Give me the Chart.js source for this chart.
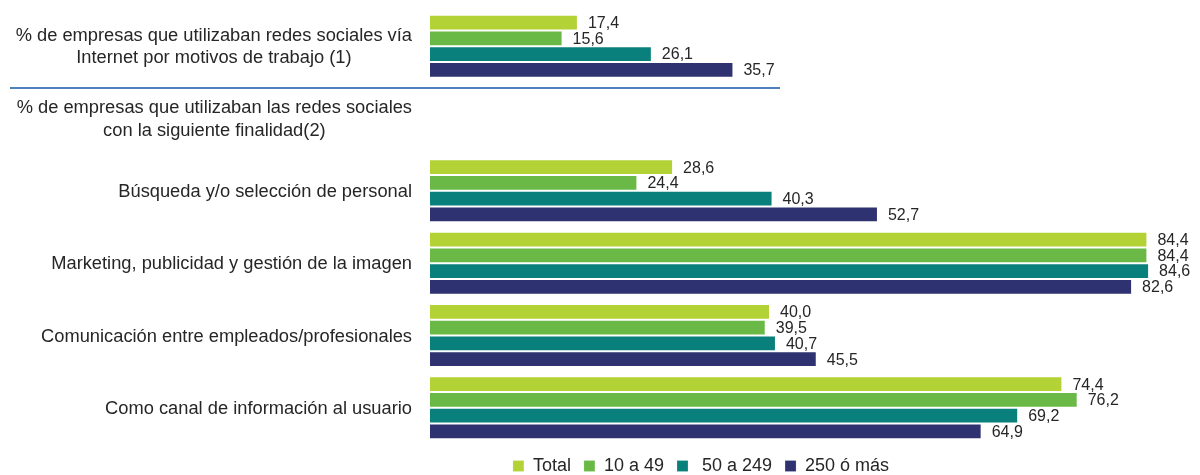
<!DOCTYPE html>
<html lang="es">
<head>
<meta charset="utf-8">
<title>Uso de redes sociales por tamaño de empresa</title>
<script src="https://cdn.jsdelivr.net/npm/chart.js@4.4.1/dist/chart.umd.min.js"></script>
<style>
  html, body { margin: 0; padding: 0; background: #ffffff; }
  #wrap { width: 1200px; height: 475px; position: relative; }
</style>
</head>
<body>
<div id="wrap"><canvas id="grafico"></canvas></div>
<script>
// Categorías (cada elemento es una lista de líneas del rótulo)
const categorias = [
  ['% de empresas que utilizaban redes sociales vía', 'Internet por motivos de trabajo (1)'],
  ['% de empresas que utilizaban las redes sociales', 'con la siguiente finalidad(2)'],
  ['Búsqueda y/o selección de personal'],
  ['Marketing, publicidad y gestión de la imagen'],
  ['Comunicación entre empleados/profesionales'],
  ['Como canal de información al usuario']
];

// Series por tamaño de empresa (%). La fila de encabezado no lleva barras.
const total      = [17.4, null, 28.6, 84.4, 40.0, 74.4];
const de10a49    = [15.6, null, 24.4, 84.4, 39.5, 76.2];
const de50a249   = [26.1, null, 40.3, 84.6, 40.7, 69.2];
const de250oMas  = [35.7, null, 52.7, 82.6, 45.5, 64.9];

const nombresSeries = ['Total', '10 a 49', ' 50 a 249', '250 ó más'];
const coloresSeries = ['#b3d236', '#6ab946', '#0a807c', '#2e3270'];

const FUENTE = '"Liberation Sans", Arial, Helvetica, sans-serif';
const COLOR_TEXTO = '#262626';

const formato = v => v.toFixed(1).replace('.', ',');

// Rótulos del eje de categorías: cada bloque se alinea a la derecha
// y sus líneas se centran entre sí.
const rotulosCategorias = {
  id: 'rotulosCategorias',
  afterDraw(chart) {
    const ctx = chart.ctx;
    const y = chart.scales.y;
    const bordeDerecho = chart.chartArea.left - 18;
    const interlinea = 22.5;
    ctx.save();
    ctx.font = '18.3px ' + FUENTE;
    ctx.fillStyle = COLOR_TEXTO;
    ctx.textAlign = 'center';
    ctx.textBaseline = 'middle';
    categorias.forEach((lineas, i) => {
      const yc = y.getPixelForValue(i) + 1;
      const ancho = Math.max(...lineas.map(l => ctx.measureText(l).width));
      const xc = bordeDerecho - ancho / 2;
      const y0 = yc - (lineas.length - 1) * interlinea / 2;
      lineas.forEach((l, k) => ctx.fillText(l, xc, y0 + k * interlinea));
    });
    ctx.restore();
  }
};

// Valores al final de cada barra
const etiquetasValor = {
  id: 'etiquetasValor',
  afterDatasetsDraw(chart) {
    const ctx = chart.ctx;
    ctx.save();
    ctx.font = '16px ' + FUENTE;
    ctx.fillStyle = COLOR_TEXTO;
    ctx.textAlign = 'left';
    ctx.textBaseline = 'middle';
    chart.data.datasets.forEach((ds, di) => {
      const meta = chart.getDatasetMeta(di);
      meta.data.forEach((barra, i) => {
        const v = ds.data[i];
        if (v === null || v === undefined) return;
        ctx.fillText(formato(v), barra.x + 10, barra.y + 1);
      });
    });
    ctx.restore();
  }
};

// Línea que separa el primer indicador del bloque de finalidades
const separador = {
  id: 'separador',
  afterDraw(chart) {
    const ctx = chart.ctx;
    const y = chart.scales.y;
    const y0 = y.getPixelForValue(0);
    const y1 = y.getPixelForValue(1);
    const yl = Math.round(y0 + (y1 - y0) * 0.575);
    ctx.save();
    ctx.strokeStyle = '#4f7fbd';
    ctx.lineWidth = 2;
    ctx.beginPath();
    ctx.moveTo(10, yl);
    ctx.lineTo(780, yl);
    ctx.stroke();
    ctx.restore();
  }
};

// Desplaza la leyenda hacia la derecha
const leyendaDesplazada = {
  id: 'leyendaDesplazada',
  afterLayout(chart) {
    if (chart.legend) chart.legend.left += 207;
  }
};

const series = [total, de10a49, de50a249, de250oMas];

new Chart(document.getElementById('grafico'), {
  type: 'bar',
  data: {
    labels: categorias.map(l => l.join(' ')),
    datasets: series.map((datos, i) => ({
      label: nombresSeries[i],
      data: datos,
      backgroundColor: coloresSeries[i],
      borderColor: 'rgba(255,255,255,0.18)',
      borderWidth: 1,
      categoryPercentage: 0.872,
      barPercentage: 1.0
    }))
  },
  options: {
    indexAxis: 'y',
    responsive: true,
    maintainAspectRatio: false,
    animation: false,
    layout: { padding: { top: 10, right: 5, bottom: -10, left: 0 } },
    scales: {
      x: {
        display: false,
        min: 0,
        max: 90
      },
      y: {
        grid: { display: false },
        border: { display: false },
        ticks: { display: false },
        afterFit(scale) { scale.width = 430; }
      }
    },
    plugins: {
      legend: {
        position: 'bottom',
        align: 'center',
        labels: {
          boxWidth: 11,
          boxHeight: 11,
          padding: 13,
          color: COLOR_TEXTO,
          font: { family: FUENTE, size: 18 }
        }
      },
      tooltip: { enabled: false }
    }
  },
  plugins: [rotulosCategorias, etiquetasValor, separador, leyendaDesplazada]
});
</script>
</body>
</html>
